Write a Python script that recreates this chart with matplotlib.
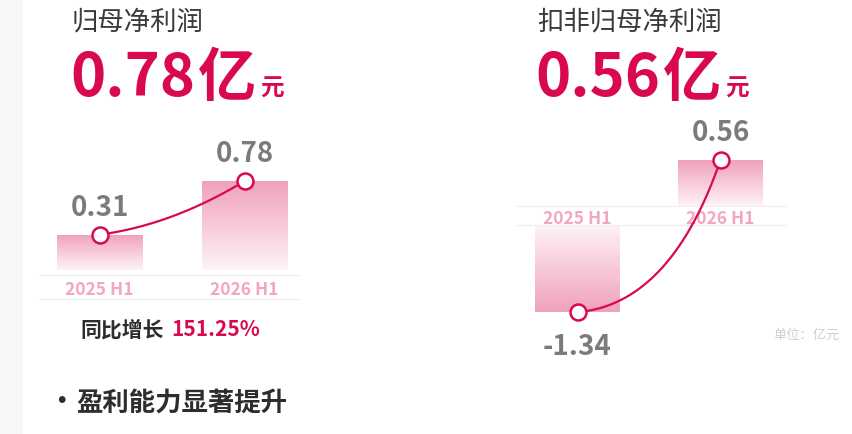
import numpy as np
import matplotlib.pyplot as plt
from matplotlib.colors import LinearSegmentedColormap
from matplotlib.patches import Rectangle

plt.rcParams['font.family'] = ['Noto Sans CJK SC', 'DejaVu Sans']

# data
categories = ['2025 H1', '2026 H1']
net_profit = [0.31, 0.78]          # 归母净利润 (亿元)
net_profit_ded = [-1.34, 0.56]     # 扣非归母净利润 (亿元)
growth = '151.25%'

RED = '#d9094f'
PINK_TXT = '#f2a6c0'
GRAY = '#7b7b7b'
DARK = '#2d2d2d'

W, H = 852, 435
fig = plt.figure(figsize=(W / 100, H / 100), dpi=100)

# pixel overlay for texts and decorations (on top of the bar axes)
bg = fig.add_axes([0, 0, 1, 1])
bg.set_xlim(0, W)
bg.set_ylim(H, 0)
bg.axis('off')
bg.patch.set_visible(False)
bg.set_zorder(10)
fig.patches.append(Rectangle((0, 0), 23 / W, 1, transform=fig.transFigure,
                             color='#f7f7f9', lw=0))

cmap = LinearSegmentedColormap.from_list('bar', ['#fef3f7', '#f0a1bc'])


def px_axes(x0, x1, ytop, ybot):
    ax = fig.add_axes([x0 / W, 1 - ybot / H, (x1 - x0) / W, (ybot - ytop) / H])
    ax.patch.set_alpha(0)
    for s in ax.spines.values():
        s.set_visible(False)
    ax.set_yticks([])
    ax.tick_params(length=0)
    return ax


def grad_bar(ax, x, v, w=0.59):
    b = ax.bar(x, v, w, color='none', lw=0)[0]
    grad = np.linspace(0, 1, 200).reshape(-1, 1)
    im = ax.imshow(grad, cmap=cmap, origin='lower', aspect='auto',
                   extent=(x - w / 2, x + w / 2, 0, v), zorder=1)
    im.set_clip_path(b)


def to_px(ax, x, y):
    d = ax.transData.transform((x, y))
    return bg.transData.inverted().transform(d)


def curve(p0, p2, fx, fy):
    p1 = (p0[0] + fx * (p2[0] - p0[0]), p0[1] + fy * (p2[1] - p0[1]))
    t = np.linspace(0, 1, 100)
    xs = (1 - t) ** 2 * p0[0] + 2 * (1 - t) * t * p1[0] + t ** 2 * p2[0]
    ys = (1 - t) ** 2 * p0[1] + 2 * (1 - t) * t * p1[1] + t ** 2 * p2[1]
    bg.plot(xs, ys, color=RED, lw=1.6, zorder=5)
    for p in (p0, p2):
        bg.plot(*p, 'o', ms=11.5, mfc='white', mec=RED, mew=1.8, zorder=6)


# ---- left panel ----
axL = px_axes(40, 300, 130, 271)
for i, v in enumerate(net_profit):
    grad_bar(axL, i, v)
axL.set_xlim(-59.5 / 145, 200.5 / 145)
axL.set_ylim(0, 141 / 114)
axL.set_xticks(range(len(categories)), categories, color=PINK_TXT,
               fontsize=12.5, fontweight='bold')
axL.tick_params(axis='x', pad=7)
ptsL = [to_px(axL, i, v) for i, v in enumerate(net_profit)]
curve(ptsL[0], ptsL[1], 0.5, 0.18)
for p, v in zip(ptsL, net_profit):
    bg.text(p[0], p[1] - 28, f'{v:.2f}', ha='center', va='center',
            fontsize=20, fontweight='bold', color=GRAY)
bg.plot([40, 300], [276, 276], color='#f1f1f1', lw=1, zorder=0)
bg.plot([40, 300], [300, 300], color='#f1f1f1', lw=1, zorder=0)

# ---- right panel (positive part / negative part) ----
axRp = px_axes(515, 785, 100, 207)
axRn = px_axes(515, 785, 226, 340)
for ax in (axRp, axRn):
    ax.set_xlim(-62.5 / 143, 207.5 / 143)
axRp.set_ylim(0, 107 / 82)
axRn.set_ylim(-114 / 65, 0)
ptsR = []
for i, v in enumerate(net_profit_ded):
    ax = axRp if v >= 0 else axRn
    grad_bar(ax, i, v)
    ptsR.append(to_px(ax, i, v))
axRp.set_xticks(range(len(categories)), categories, color=PINK_TXT,
                fontsize=12.5, fontweight='bold')
axRp.tick_params(axis='x', pad=2.5)
axRn.set_xticks([])
curve(ptsR[0], ptsR[1], 0.65, 0.05)
for p, v in zip(ptsR, net_profit_ded):
    dy = -28 if v >= 0 else 34
    bg.text(p[0], p[1] + dy, f'{v:.2f}', ha='center', va='center',
            fontsize=20, fontweight='bold', color=GRAY)
bg.plot([515, 785], [207, 207], color='#f1f1f1', lw=1, zorder=0)
bg.plot([515, 785], [226, 226], color='#f1f1f1', lw=1, zorder=0)

# ---- headline texts ----
renderer = fig.canvas.get_renderer()


def headline(x, title, value):
    bg.text(x + 2, 22, title, fontsize=19, color='#3a3a3a', va='center')
    t = bg.text(x, 96, f'{value:.2f}', fontsize=43, fontweight='bold',
                color=RED, va='baseline')
    bb = t.get_window_extent(renderer).transformed(bg.transData.inverted())
    x_yi = bb.x1 + 3
    t2 = bg.text(x_yi, 96, '亿', fontsize=42, fontweight='bold', color=RED,
                 va='baseline')
    bb2 = t2.get_window_extent(renderer).transformed(bg.transData.inverted())
    bg.text(bb2.x1 + 4, 96, '元', fontsize=17, fontweight='bold', color=RED,
            va='baseline')


headline(70, '归母净利润', net_profit[-1])
headline(535, '扣非归母净利润', net_profit_ded[-1])

bg.text(80, 330, '同比增长', fontsize=15, fontweight='bold', color=DARK, va='center')
bg.text(171, 330, growth, fontsize=15, fontweight='bold', color=RED, va='center')

bg.text(61, 403, '·', fontsize=19, fontweight='bold', color=DARK, va='center',
        ha='center')
bg.text(76, 403, '盈利能力显著提升', fontsize=19, fontweight='bold', color=DARK,
        va='center')

bg.text(773, 335, '单位：亿元', fontsize=9.5, color='#cfcfcf', va='center')

fig.savefig('out.png', dpi=100)
